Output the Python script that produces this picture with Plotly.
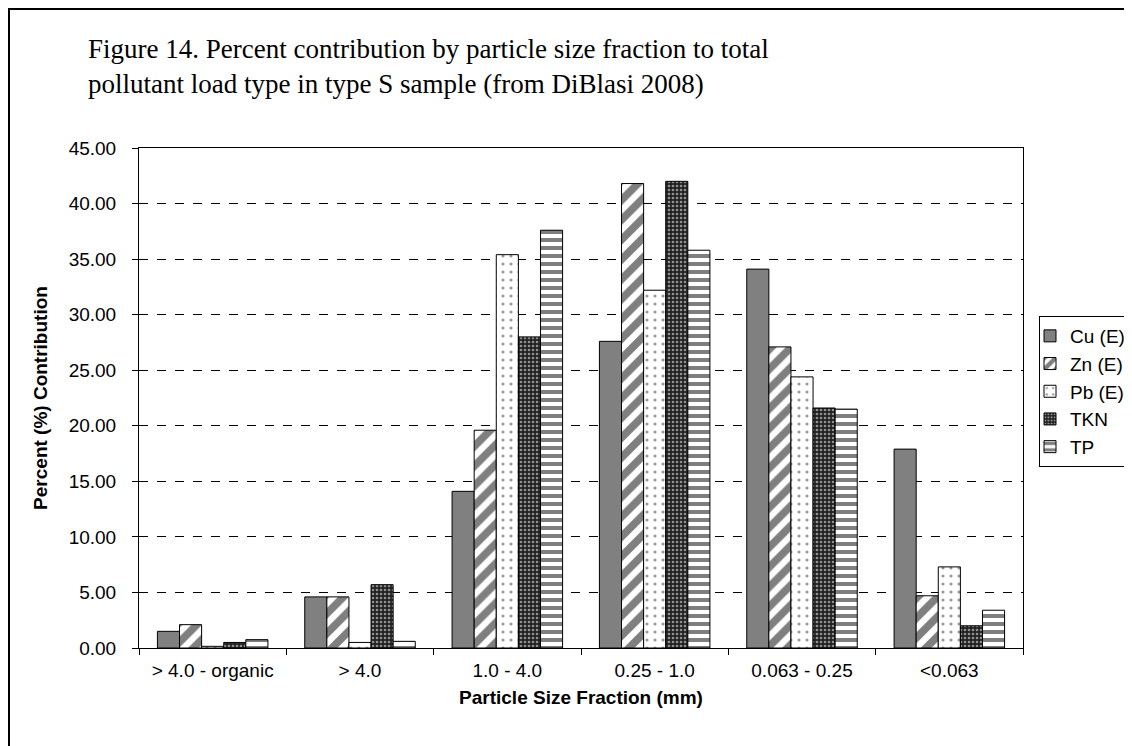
import plotly.graph_objects as go

categories = ['> 4.0 - organic', '> 4.0', '1.0 - 4.0', '0.25 - 1.0', '0.063 - 0.25', '<0.063']

cu = [1.5, 4.6, 14.1, 27.6, 34.1, 17.9]
zn = [2.1, 4.6, 19.6, 41.8, 27.1, 4.7]
pb = [0.15, 0.5, 35.4, 32.2, 24.4, 7.3]
tkn = [0.5, 5.7, 28.0, 42.0, 21.6, 2.0]
tp = [0.75, 0.6, 37.6, 35.8, 21.5, 3.4]

series = [
    ('Cu (E)', cu, dict(color='#808080')),
    ('Zn (E)', zn, dict(color='white', pattern=dict(shape='/', fgcolor='black', bgcolor='white', size=14, solidity=0.55))),
    ('Pb (E)', pb, dict(color='white', pattern=dict(shape='.', fgcolor='#333333', bgcolor='white', size=8, solidity=0.12))),
    ('TKN', tkn, dict(color='black', pattern=dict(shape='.', fgcolor='white', bgcolor='#222222', size=4, solidity=0.35))),
    ('TP', tp, dict(color='white', pattern=dict(shape='-', fgcolor='black', bgcolor='white', size=8, solidity=0.5))),
]

traces = []
for name, vals, marker in series:
    marker = dict(marker)
    marker['line'] = dict(color='black', width=1)
    traces.append(go.Bar(x=categories, y=vals, name=name, marker=marker))

# page has an 8px body margin, so the figure is a bit smaller than the window
fig = go.Figure(
    data=traces,
    layout=go.Layout(
        width=1124, height=738,
        paper_bgcolor='white', plot_bgcolor='white',
        margin=dict(l=131, r=109, t=140, b=98, autoexpand=False),
        bargap=0.25, bargroupgap=0,
        font=dict(family='Liberation Sans, Arial', size=19, color='black'),
        showlegend=True,
    )
)

fig.update_layout(
    title=dict(
        text='Figure 14. Percent contribution by particle size fraction to total<br>pollutant load type in type S sample (from DiBlasi 2008)',
        font=dict(family='Liberation Serif, Times New Roman', size=27, color='black'),
        x=80 / 1124, xanchor='left', y=1 - 50 / 738, yanchor='top',
    ),
    legend=dict(
        x=(1039 - 139) / 884, y=(648 - 316) / 500, xanchor='left', yanchor='top',
        bordercolor='black', borderwidth=1, bgcolor='white',
        font=dict(size=19), tracegroupgap=0, itemwidth=30, indentation=-10,
    ),
)

fig.update_yaxes(
    range=[0, 45], dtick=5, tickformat='.2f',
    showgrid=True, gridcolor='black', griddash='dash', gridwidth=1,
    showline=True, linecolor='black', mirror=True,
    ticks='outside', ticklen=6, tickcolor='black', ticklabelstandoff=12,
    title=dict(text='<b>Percent (%) Contribution</b>', font=dict(size=19), standoff=16),
    zeroline=False,
)
fig.update_xaxes(
    showline=True, linecolor='black', mirror=True,
    ticks='outside', ticklen=6, tickcolor='black', tickson='boundaries', ticklabelstandoff=5,
    title=dict(text='<b>Particle Size Fraction (mm)</b>', font=dict(size=19), standoff=10),
)

# outer chart border
fig.add_shape(type='rect', xref='paper', yref='paper',
              x0=(9 - 139) / 884, x1=(1150 - 139) / 884,
              y0=(648 - 760) / 500, y1=(648 - 9) / 500,
              line=dict(color='black', width=2))

fig.write_html('out.html')
